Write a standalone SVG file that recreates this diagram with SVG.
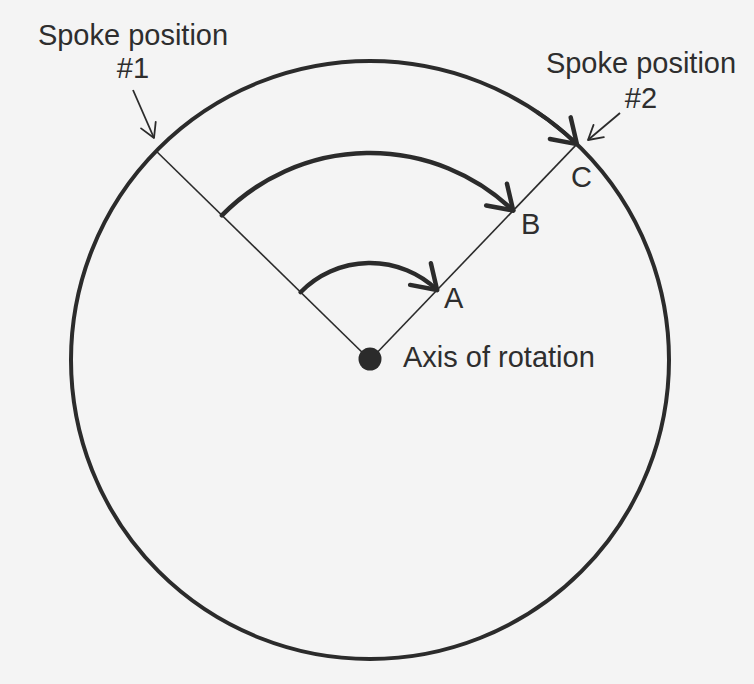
<svg xmlns="http://www.w3.org/2000/svg" width="754" height="684" viewBox="0 0 754 684">
  <style>
    .lbl { font-family: "Liberation Sans", Arial, Helvetica, sans-serif; font-size: 29px; fill: #2e2e2e; }
    .rim { fill: none; stroke: #2b2b2b; stroke-width: 4; }
    .spoke { fill: none; stroke: #2b2b2b; stroke-width: 1.6; }
    .motion { fill: none; stroke: #2b2b2b; stroke-width: 4.5; stroke-linecap: round; }
    .pointer { fill: none; stroke: #2b2b2b; stroke-width: 1.8; }
  </style>
  <defs>
    <marker id="headBig" markerUnits="userSpaceOnUse" viewBox="-30 -30 60 60" markerWidth="60" markerHeight="60" refX="0" refY="0" orient="auto">
      <path d="M -23 -15 L 0 0 L -23 15" fill="none" stroke="#2b2b2b" stroke-width="4.5" stroke-linecap="round" stroke-linejoin="round"/>
    </marker>
    <marker id="headSmall" markerUnits="userSpaceOnUse" viewBox="-20 -20 40 40" markerWidth="40" markerHeight="40" refX="0" refY="0" orient="auto">
      <path d="M -14 -8 L 0 0 L -14 8" fill="none" stroke="#2b2b2b" stroke-width="1.8" stroke-linecap="round" stroke-linejoin="round"/>
    </marker>
  </defs>

  <rect x="0" y="0" width="754" height="684" fill="#f4f4f4"/>

  <g id="wheel">
    <circle class="rim" cx="370" cy="360" r="299"/>
  </g>

  <g id="spoke1">
    <line class="spoke" x1="370" y1="360" x2="156.9" y2="151.7"/>
    <text class="lbl" x="133" y="45" text-anchor="middle">Spoke position</text>
    <text class="lbl" x="133" y="78" text-anchor="middle">#1</text>
  </g>

  <g id="spoke2">
    <line class="spoke" x1="370" y1="360" x2="576.9" y2="144.1"/>
    <text class="lbl" x="641" y="73" text-anchor="middle">Spoke position</text>
    <text class="lbl" x="641" y="108" text-anchor="middle">#2</text>
  </g>

  <g id="axis">
    <circle cx="370" cy="359" r="11.5" fill="#2b2b2b"/>
    <text class="lbl" x="403" y="367">Axis of rotation</text>
  </g>

  <g id="pointA"><text class="lbl" x="444" y="308">A</text></g>
  <g id="pointB"><text class="lbl" x="521" y="234">B</text></g>
  <g id="pointC"><text class="lbl" x="571" y="187">C</text></g>

  <g id="connectors">
    <path class="motion" d="M 300.6 292.2 A 97 97 0 0 1 437.1 290" marker-end="url(#headBig)"/>
    <path class="motion" d="M 221.9 215.4 A 207 207 0 0 1 513.2 210.5" marker-end="url(#headBig)"/>
    <path class="rim" d="M 537.2 112.1 A 299 299 0 0 1 576.9 144.1" marker-end="url(#headBig)"/>
    <line class="pointer" x1="133" y1="90" x2="154" y2="138" marker-end="url(#headSmall)"/>
    <line class="pointer" x1="620" y1="113" x2="588" y2="140" marker-end="url(#headSmall)"/>
  </g>
</svg>
